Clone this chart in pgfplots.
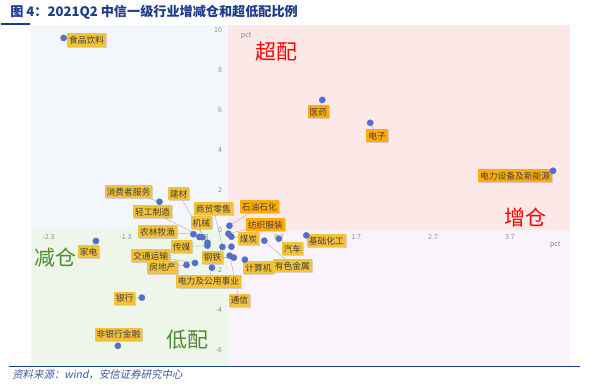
\documentclass[border=0pt]{standalone}
\usepackage{fontspec}
\setmainfont{Noto Sans CJK SC}
\newfontfamily\cjkit{Noto Sans CJK SC}[FakeSlant=0.2]
\usepackage{pgfplots}
\pgfplotsset{compat=1.18}
\usetikzlibrary{shadows}
\definecolor{qblue}{HTML}{F3F7FC}
\definecolor{qpink}{HTML}{FDE8E8}
\definecolor{qgreen}{HTML}{EEF5E9}
\definecolor{qlav}{HTML}{F9F4FC}
\definecolor{ptc}{HTML}{5470C6}
\definecolor{laby}{HTML}{F4C238}
\definecolor{labo}{HTML}{FFAC0A}
\definecolor{titleblue}{HTML}{1B3B8C}
\definecolor{gtext}{HTML}{4E8B30}
\definecolor{leader}{HTML}{B8B8B8}
\tikzset{lb/.style={fill=laby, text=black!75, inner xsep=2bp, inner ysep=2.5bp,
  font=\fontsize{8.8}{9}\selectfont,
  drop shadow={shadow xshift=1bp, shadow yshift=-1bp, opacity=0.3}}}
\pgfplotstableread{
x y
-2.104 9.6
1.26 6.5
1.883 5.35
4.26 2.95
-0.857 1.4
0.052 0.2
0.039 -0.2
0.078 -0.35
-0.416 -0.225
-0.338 -0.365
-0.299 -0.375
-0.234 -0.65
-0.234 -0.8
-0.039 -0.865
0.078 -0.85
0.056 -1.3
0.11 -1.4
0.253 -1.5
0.506 -0.55
0.695 -0.45
1.052 -0.285
-0.506 -1.765
-0.396 -1.665
-0.175 -1.9
-1.684 -0.565
-1.087 -3.4
-1.399 -5.815
}\pts
\newcommand{\ld}[4]{\draw[leader, line width=0.5bp] (axis cs:#1,#2) -- (axis cs:#3,#4);}
\begin{document}
\begin{tikzpicture}
\path (0,0) rectangle (597bp,386bp);
\node[anchor=west, font=\bfseries\fontsize{13.2}{15}\selectfont, text=titleblue] at (6bp,374bp) {图 4：2021Q2 中信一级行业增减仓和超低配比例};
\draw[titleblue, line width=1.5bp] (0bp,362bp) -- (29bp,362bp);
\begin{axis}[
  at={(30bp,21bp)}, anchor=south west,
  scale only axis, width=540bp, height=340bp,
  xmin=-2.532, xmax=4.481, ymin=-6.75, ymax=10.25,
  axis lines=middle, axis line style={draw=none},
  major tick length=0pt,
  xtick={-2.3,-1.3,-0.3,0.7,1.7,2.7,3.7},
  ytick={-6,-4,-2,0,2,4,6,8,10},
  hide obscured x ticks=false, hide obscured y ticks=false,
  tick label style={font=\fontsize{7}{8}\selectfont, text=black!45},
  /pgf/number format/assume math mode=true,
  xticklabel style={yshift=-1bp},
  clip=false, set layers=standard,
]
\begin{pgfonlayer}{axis background}
\fill[qblue] (axis cs:-2.532,0) rectangle (axis cs:0.03,10.25);
\fill[qpink] (axis cs:0.03,0) rectangle (axis cs:4.481,10.25);
\fill[qgreen] (axis cs:-2.532,-6.75) rectangle (axis cs:0.03,0);
\fill[qlav] (axis cs:0.03,-6.75) rectangle (axis cs:4.481,0);
\end{pgfonlayer}
% leader lines
\ld{-2.104}{9.6}{-1.805}{9.5}
\ld{1.26}{6.5}{1.208}{5.9}
\ld{1.883}{5.35}{1.974}{4.7}
\ld{4.26}{2.95}{3.766}{2.7}
\ld{-0.857}{1.4}{-1.26}{1.9}
\ld{0.052}{0.2}{0.442}{1.15}
\ld{0.039}{-0.2}{0.519}{0.25}
\ld{0.078}{-0.35}{0.299}{-0.45}
\ld{-0.416}{-0.225}{-0.883}{-0.1}
\ld{-0.338}{-0.365}{-0.312}{0.35}
\ld{-0.299}{-0.375}{-0.948}{0.9}
\ld{-0.234}{-0.65}{-0.61}{1.8}
\ld{-0.234}{-0.8}{-0.571}{-0.85}
\ld{-0.039}{-0.865}{-0.156}{1.05}
\ld{0.056}{-1.3}{0.182}{-3.55}
\ld{0.11}{-1.4}{-0.169}{-1.4}
\ld{0.253}{-1.5}{0.429}{-1.9}
\ld{0.506}{-0.55}{0.87}{-1.8}
\ld{0.695}{-0.45}{0.87}{-0.95}
\ld{1.052}{-0.285}{1.312}{-0.55}
\ld{-0.506}{-1.765}{-0.818}{-1.9}
\ld{-0.396}{-1.665}{-0.974}{-1.3}
\ld{-0.175}{-1.9}{-0.221}{-2.6}
\ld{-1.684}{-0.565}{-1.779}{-1.1}
\ld{-1.087}{-3.4}{-1.312}{-3.45}
\ld{-1.399}{-5.815}{-1.39}{-5.25}
\addplot[only marks, mark=*, mark size=3.1bp, color=ptc] table[x=x, y=y] {\pts};
% labels
\node[lb] at (axis cs:-1.805,9.5) {食品饮料};
\node[lb, fill=labo] at (axis cs:1.208,5.9) {医药};
\node[lb, fill=labo] at (axis cs:1.974,4.7) {电子};
\node[lb, fill=labo] at (axis cs:3.766,2.7) {电力设备及新能源};
\node[lb] at (axis cs:-1.26,1.9) {消费者服务};
\node[lb] at (axis cs:-0.61,1.8) {建材};
\node[lb] at (axis cs:-0.948,0.9) {轻工制造};
\node[lb] at (axis cs:-0.156,1.05) {商贸零售};
\node[lb, fill=labo] at (axis cs:0.442,1.15) {石油石化};
\node[lb] at (axis cs:-0.312,0.35) {机械};
\node[lb, fill=labo] at (axis cs:0.519,0.25) {纺织服装};
\node[lb] at (axis cs:-0.883,-0.1) {农林牧渔};
\node[lb] at (axis cs:0.299,-0.45) {煤炭};
\node[lb] at (axis cs:0.87,-0.95) {汽车};
\node[lb] at (axis cs:1.312,-0.55) {基础化工};
\node[lb] at (axis cs:-0.571,-0.85) {传媒};
\node[lb] at (axis cs:-0.974,-1.3) {交通运输};
\node[lb] at (axis cs:-0.169,-1.4) {钢铁};
\node[lb] at (axis cs:-0.818,-1.9) {房地产};
\node[lb] at (axis cs:0.429,-1.9) {计算机};
\node[lb] at (axis cs:0.87,-1.8) {有色金属};
\node[lb] at (axis cs:-0.221,-2.6) {电力及公用事业};
\node[lb] at (axis cs:0.182,-3.55) {通信};
\node[lb] at (axis cs:-1.779,-1.1) {家电};
\node[lb] at (axis cs:-1.312,-3.45) {银行};
\node[lb] at (axis cs:-1.39,-5.25) {非银行金融};
% quadrant labels
\node[text=red, font=\fontsize{21}{22}\selectfont] at (axis cs:0.66,8.9) {超配};
\node[text=red, font=\fontsize{21}{22}\selectfont] at (axis cs:3.9,0.6) {增仓};
\node[text=gtext, font=\fontsize{21}{22}\selectfont] at (axis cs:-2.21,-1.4) {减仓};
\node[text=gtext, font=\fontsize{21}{22}\selectfont] at (axis cs:-0.49,-5.5) {低配};
\node[text=black!50, font=\fontsize{7}{8}\selectfont] at (axis cs:0.27,9.7) {pct};
\node[text=black!50, font=\fontsize{7}{8}\selectfont] at (axis cs:4.29,-0.75) {pct};
\end{axis}
\draw[titleblue, line width=1bp] (8bp,19.5bp) -- (580bp,19.5bp);
\node[anchor=west, text=titleblue!85, font=\fontsize{10.5}{11}\selectfont] at (8bp,11bp) {\cjkit 资料来源：wind，安信证券研究中心};
\end{tikzpicture}
\end{document}
